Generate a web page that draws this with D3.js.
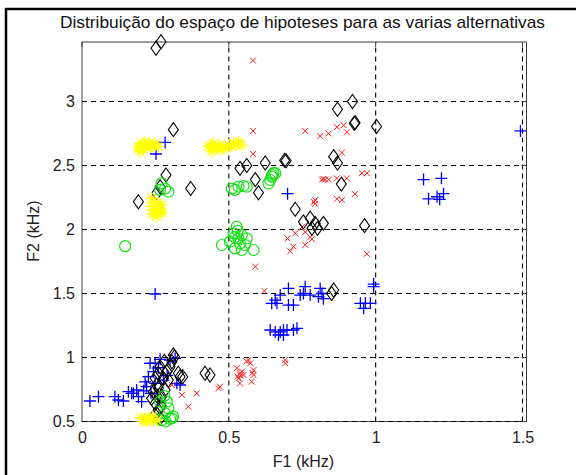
<!DOCTYPE html>
<html><head><meta charset="utf-8">
<script src="https://cdn.jsdelivr.net/npm/d3@7"></script>
<style>html,body{margin:0;padding:0;background:#fff;}svg{display:block;}text{font-family:"Liberation Sans",Arial,sans-serif;}</style>
</head><body>
<svg id="chart" width="576" height="475"></svg>
<script>
const titleText = "Distribuição do espaço de hipoteses para as varias alternativas";
const xLabel = "F1 (kHz)";
const yLabel = "F2 (kHz)";
const xTicks = [0, 0.5, 1, 1.5];
const yTicks = [0.5, 1, 1.5, 2, 2.5, 3];
const xDomain = [0, 1.5136];
const yDomain = [0.5, 3.465];

// series: blue +
const plusData = [[0.283,2.68],[0.252,2.59],[0.70,2.28],[1.493,2.77],[1.163,2.39],[1.224,2.40],[1.18,2.24],[1.209,2.256],[1.231,2.28],[1.218,2.236],
[0.249,1.496],
[0.703,1.54],[0.675,1.488],[0.658,1.449],[0.646,1.423],[0.664,1.423],[0.72,1.41],[0.703,1.41],[0.76,1.553],[0.754,1.50],[0.743,1.488],[0.777,1.488],[0.811,1.54],[0.817,1.50],[0.822,1.46],[0.805,1.475],[0.993,1.574],[0.993,1.553],[0.948,1.423],[0.965,1.423],[0.982,1.423],[0.959,1.384],
[0.641,1.215],[0.658,1.20],[0.675,1.20],[0.686,1.176],[0.669,1.176],[0.698,1.215],[0.72,1.215],[0.732,1.228],[0.686,1.215],
[0.027,0.66],[0.056,0.694],[0.112,0.694],[0.124,0.668],[0.141,0.66],[0.158,0.733],[0.175,0.72],[0.192,0.694],[0.203,0.655],[0.22,0.772],[0.226,0.85],[0.232,0.955],[0.249,0.955],[0.266,0.986],[0.30,0.98],[0.317,0.994],[0.243,0.889],[0.249,0.798],[0.277,0.824],[0.323,0.798],[0.334,0.785],
[0.169,0.72],[0.186,0.746],[0.215,0.81],[0.26,0.92],[0.29,0.86],[0.235,0.72],[0.21,0.74]];

// series: red x
const xData = [[0.582,3.32],[0.582,2.77],[0.582,2.59],[0.76,2.77],[0.811,2.73],[0.84,2.75],[0.868,2.80],[0.891,2.815],[0.902,2.76],[0.885,2.60],[0.817,2.39],[0.828,2.39],[0.84,2.39],[0.822,2.395],[0.868,2.40],[0.902,2.40],[0.953,2.44],[0.97,2.44],[0.93,2.277],[0.868,2.24],[0.885,2.23],[0.794,2.23],[0.794,2.20],[0.79,2.215],[0.749,2.02],[0.76,1.98],[0.70,1.93],[0.726,1.97],[0.72,1.866],[0.709,1.83],[0.76,1.88],[0.777,1.94],[0.783,1.925],[0.97,1.81],[0.59,1.71],[0.621,1.52],
[0.527,0.916],[0.538,0.877],[0.55,0.863],[0.533,0.837],[0.567,0.98],[0.573,0.955],[0.584,0.902],[0.584,0.863],[0.578,0.811],[0.538,0.798],[0.692,0.98],[0.692,0.955],[0.47,0.772],[0.34,0.707],[0.362,0.616],[0.391,0.72],[0.465,0.76],[0.306,0.785],[0.54,0.86],[0.545,0.89],[0.53,0.85],[0.56,0.97],[0.58,0.88]];

// series: black diamonds
const diamondData = [[0.252,3.416],[0.269,3.467],[0.311,2.78],[0.286,2.426],[0.266,2.334],[0.254,2.283],[0.192,2.217],[0.37,2.32],[0.538,2.478],[0.561,2.50],[0.624,2.52],[0.695,2.537],[0.59,2.39],[0.601,2.287],[0.857,2.569],[0.87,2.52],[0.883,2.355],[0.726,2.158],[0.754,2.06],[0.777,2.088],[0.794,2.048],[0.802,2.009],[0.822,2.048],[0.783,2.009],[0.962,2.03],[0.927,2.83],[1.003,2.805],[0.87,2.94],[0.921,3.0],[0.93,2.835],[0.69,2.54],
[0.857,1.527],[0.85,1.50],[0.419,0.877],[0.436,0.863],[0.334,0.85],[0.311,1.02],
[0.315,1.006],[0.306,0.967],[0.30,0.928],[0.289,0.889],[0.277,0.837],[0.26,0.877],[0.249,0.837],[0.254,0.785],[0.243,0.733],[0.237,0.681],[0.249,0.642],[0.26,0.59],[0.249,0.551],[0.266,0.525],[0.271,0.694],[0.283,0.746],[0.294,0.824],[0.328,0.877],[0.343,0.85],[0.266,0.928],[0.255,0.7],[0.27,0.62],[0.26,0.76],[0.28,0.97]];

// series: green circles
const circleData = [[0.271,2.36],[0.283,2.32],[0.294,2.295],[0.266,2.31],[0.51,2.32],[0.533,2.334],[0.55,2.34],[0.521,2.31],[0.561,2.334],[0.641,2.387],[0.646,2.413],[0.652,2.44],[0.635,2.36],[0.658,2.44],[0.648,2.426],
[0.147,1.87],
[0.476,1.879],[0.516,1.97],[0.527,2.02],[0.533,1.93],[0.544,1.957],[0.561,1.93],[0.521,1.853],[0.544,1.84],[0.584,1.84],[0.555,1.879],[0.538,1.892],[0.504,1.905],[0.53,1.99],[0.52,1.94],
[0.266,0.655],[0.289,0.655],[0.283,0.564],[0.306,0.525],[0.271,0.512],[0.294,0.603],[0.30,0.52],[0.31,0.54],[0.285,0.5],[0.28,0.7]];

// series: yellow asterisks
const starData = [[0.192,2.647],[0.203,2.673],[0.215,2.686],[0.226,2.66],[0.237,2.647],[0.249,2.673],[0.26,2.647],[0.198,2.608],[0.21,2.63],[0.22,2.64],[0.195,2.63],[0.232,2.665],[0.243,2.655],
[0.43,2.647],[0.447,2.673],[0.465,2.66],[0.482,2.647],[0.499,2.66],[0.516,2.673],[0.533,2.686],[0.544,2.66],[0.442,2.608],[0.47,2.62],[0.455,2.64],[0.49,2.635],[0.51,2.65],[0.525,2.66],[0.438,2.66],
[0.237,2.244],[0.249,2.217],[0.26,2.204],[0.271,2.19],[0.266,2.166],[0.24,2.12],[0.255,2.10],[0.265,2.14],[0.25,2.15],[0.235,2.18],[0.275,2.13],
[0.2,0.53],[0.215,0.52],[0.23,0.51],[0.245,0.5],[0.22,0.5],[0.255,0.51],[0.21,0.5],[0.24,0.54],[0.225,0.53]];

const svg = d3.select("#chart");
const L = 82, R = 526.5, T = 42, B = 421.5;
const x = d3.scaleLinear().domain(xDomain).range([L, R]);
const y = d3.scaleLinear().domain(yDomain).range([B, T]);

// outer frame (left and top)
svg.append("path").attr("d", "M6,480V9H580").attr("fill","none").attr("stroke","#000").attr("stroke-width",2.5);

// box
svg.append("rect").attr("x", L).attr("y", T).attr("width", R-L).attr("height", B-T)
  .attr("fill","none").attr("stroke","#404040").attr("stroke-width",1);

// grid
const grid = svg.append("g");
grid.selectAll("line.gx").data(xTicks.filter(d=>d>0)).join("line")
  .attr("x1", d=>x(d)).attr("x2", d=>x(d)).attr("y1", B).attr("y2", T)
  .attr("stroke","#000").attr("stroke-dasharray","5,4").attr("stroke-width",1.1);
grid.selectAll("line.gy").data(yTicks).join("line")
  .attr("y1", d=>y(d)).attr("y2", d=>y(d)).attr("x1", L).attr("x2", R)
  .attr("stroke","#000").attr("stroke-dasharray","5,4").attr("stroke-width",1.1);

// axes labels via d3 axes
const xAxis = svg.append("g").attr("transform", `translate(0,${B})`)
  .call(d3.axisBottom(x).tickValues(xTicks).tickFormat(d3.format("~g")).tickSize(0).tickPadding(10));
xAxis.select(".domain").remove();
xAxis.selectAll("text").attr("font-size", 16).attr("fill","#222").attr("font-family","Liberation Sans, Arial, sans-serif");
const yAxis = svg.append("g").attr("transform", `translate(${L},0)`)
  .call(d3.axisLeft(y).tickValues(yTicks).tickFormat(d3.format("~g")).tickSize(0).tickPadding(7));
yAxis.select(".domain").remove();
yAxis.selectAll("text").attr("font-size", 16).attr("fill","#222").attr("font-family","Liberation Sans, Arial, sans-serif");

// small inside ticks on top/right
svg.append("g").selectAll("line").data(xTicks).join("line")
  .attr("x1", d=>x(d)).attr("x2", d=>x(d)).attr("y1", T).attr("y2", T+5).attr("stroke","#404040");
svg.append("g").selectAll("line").data(yTicks).join("line")
  .attr("y1", d=>y(d)).attr("y2", d=>y(d)).attr("x1", R).attr("x2", R-5).attr("stroke","#404040");

// markers
const plotG = svg.append("g");
plotG.selectAll("path.p").data(plusData).join("path")
  .attr("d", d=>{const cx=x(d[0]), cy=y(d[1]); return `M${cx-6},${cy}h12M${cx},${cy-6}v12`;})
  .attr("stroke","#0000ff").attr("stroke-width",1.3).attr("fill","none");
plotG.selectAll("path.x").data(xData).join("path")
  .attr("d", d=>{const cx=x(d[0]), cy=y(d[1]); return `M${cx-3},${cy-3}l6,6M${cx-3},${cy+3}l6,-6`;})
  .attr("stroke","#ff2020").attr("stroke-width",1).attr("fill","none");
plotG.selectAll("path.d").data(diamondData).join("path")
  .attr("d", d=>{const cx=x(d[0]), cy=y(d[1]); return `M${cx},${cy-7}L${cx+5},${cy}L${cx},${cy+7}L${cx-5},${cy}Z`;})
  .attr("stroke","#000").attr("stroke-width",1.1).attr("fill","none");
plotG.selectAll("circle").data(circleData).join("circle")
  .attr("cx", d=>x(d[0])).attr("cy", d=>y(d[1])).attr("r",5.5)
  .attr("stroke","#10e010").attr("stroke-width",1.2).attr("fill","none");
plotG.selectAll("path.s").data(starData).join("path")
  .attr("d", d=>{const cx=x(d[0]), cy=y(d[1]); return `M${cx-6},${cy}h12M${cx},${cy-6}v12M${cx-4.2},${cy-4.2}l8.4,8.4M${cx-4.2},${cy+4.2}l8.4,-8.4`;})
  .attr("stroke","#ffff00").attr("stroke-width",1.2).attr("fill","none");

// title & labels
svg.append("text").attr("x", 302.5).attr("y", 28).attr("text-anchor","middle")
  .attr("font-size", 17).attr("fill","#111").attr("textLength", 485).attr("lengthAdjust","spacingAndGlyphs").text(titleText);
svg.append("text").attr("x", 303.5).attr("y", 467).attr("text-anchor","middle")
  .attr("font-size", 16).attr("fill","#222").text(xLabel);
svg.append("text").attr("transform","translate(39,231) rotate(-90)").attr("text-anchor","middle")
  .attr("font-size", 16).attr("fill","#222").text(yLabel);
</script>
</body></html>
